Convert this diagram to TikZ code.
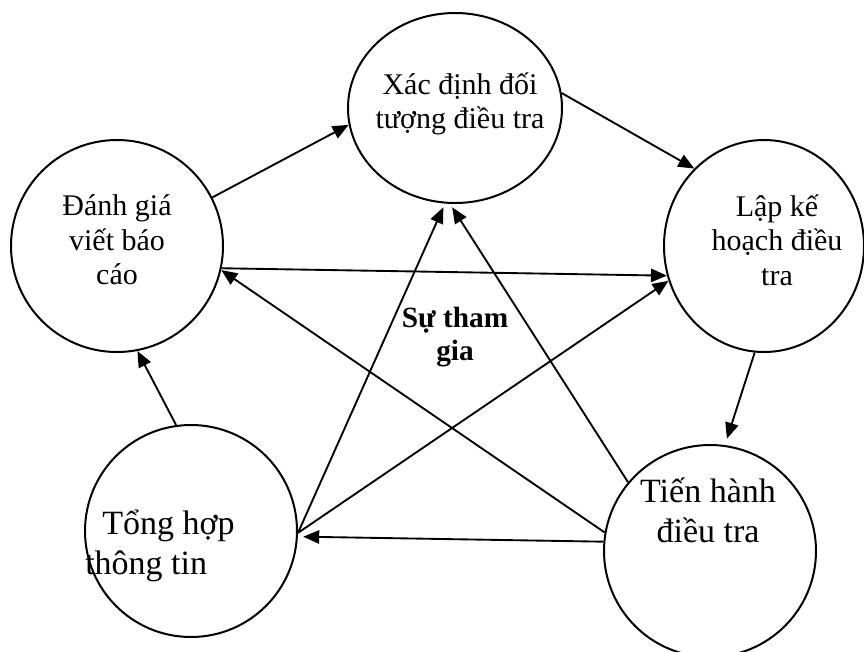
\documentclass[tikz,border=0pt]{standalone}
\usepackage{fontspec}
\setmainfont{Liberation Serif}
\usetikzlibrary{arrows.meta,shapes.geometric}

\begin{document}
\begin{tikzpicture}[x=0.75pt,y=0.75pt,>={Triangle[length=12pt,width=10pt]},
      bub/.style={circle,draw,line width=1.5pt,minimum size=159pt,inner sep=0pt},
      oval/.style={ellipse,draw,line width=1.5pt,inner sep=0pt},
      txt/.style={align=center,inner sep=0pt,font=\fontsize{22.5pt}{26pt}\selectfont},
      bigtxt/.style={inner sep=0pt,font=\fontsize{25.5pt}{30pt}\selectfont},
      link/.style={->,line width=1.4pt}]
    \useasboundingbox (0,0) rectangle (864,-651);
    % the five steps
    \node[oval,minimum width=160.5pt,minimum height=142.5pt] (xd) at (455,-108) {};
    \node[bub] (dg) at (117,-246) {};
    \node[oval,minimum width=150pt,minimum height=159pt] (lk) at (764,-246) {};
    \node[bub] (th) at (191,-531) {};
    \node[bub] (ti) at (710,-551) {};
    % their texts
    \node[txt] (xdt) at (460,-104) {Xác định đối\\tượng điều tra};
    \node[txt] (dgt) at (117,-240) {Đánh giá\\viết báo\\cáo};
    \node[txt] (lkt) at (777,-240) {Lập kế\\hoạch điều\\tra};
    \node[bigtxt,align=left,anchor=west] (tht) at (85,-546) {\hspace*{0.5em}Tổng hợp\\thông tin};
    \node[bigtxt,align=center] (tit) at (708,-510) {Tiến hành\\điều tra};
    \node[txt,font=\bfseries\fontsize{22pt}{25pt}\selectfont] (stg) at (455,-337) {Sự tham\\gia};
    % the cycle
    \draw[link] (dg.27) -- (xd.189);
    \draw[link] (xd.8) -- (lk.132);
    \draw[link,shorten >=5pt] (lk.265) -- (ti.82);
    \draw[link,shorten >=4pt] (ti.175) -- (th.357);
    \draw[link] (th.98) -- (dg.281);
    % cross links
    \draw[link] (dg.348) -- (lk.197);
    \draw[link] (ti.170) -- (dg.347);
    \draw[link,shorten >=3pt] (ti.140) -- (xd.267);
    \draw[link,shorten >=3pt] (th.359) -- (xd.264);
    \draw[link] (th.359) -- (lk.200);
  \end{tikzpicture}
\end{document}
